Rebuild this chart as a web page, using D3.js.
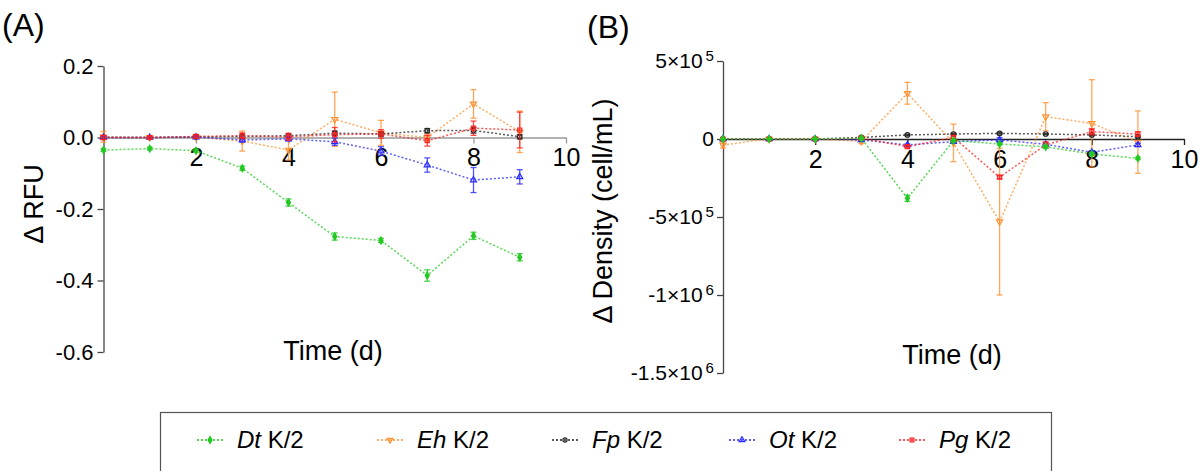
<!DOCTYPE html>
<html><head><meta charset="utf-8">
<script src="https://cdn.jsdelivr.net/npm/d3@7"></script>
<style>body{margin:0;background:#fff} svg{font-family:Arial,"Liberation Sans",sans-serif}</style>
</head><body>
<svg id="c" width="1202" height="471"></svg>
<script>
// ---------- data ----------
const days = [0,1,2,3,4,5,6,7,8,9];
const species = ["Dt","Eh","Fp","Ot","Pg"];

// Panel A: delta RFU
const dtRFU    = [-0.035,-0.031,-0.037,-0.086,-0.182,-0.277,-0.288,-0.386,-0.275,-0.335];
const dtRFUErr = [0.004,0.004,0.004,0.006,0.010,0.010,0.006,0.016,0.010,0.010];
const ehRFU    = [0.002,0.000,0.001,-0.010,-0.035,0.051,0.013,0.000,0.094,0.016];
const ehRFUErr = [0.015,0.003,0.004,0.028,0.028,0.076,0.035,0.010,0.040,0.058];
const fpRFU    = [0.000,0.000,0.002,0.003,0.005,0.012,0.010,0.019,0.020,0.002];
const fpRFUErr = [0.003,0.002,0.003,0.004,0.004,0.006,0.006,0.006,0.008,0.006];
const otRFU    = [0.000,0.000,0.001,-0.007,-0.004,-0.012,-0.038,-0.077,-0.119,-0.110];
const otRFUErr = [0.003,0.002,0.003,0.006,0.006,0.010,0.012,0.020,0.035,0.020];
const pgRFU    = [0.000,0.000,0.003,0.005,0.002,0.008,0.010,-0.009,0.026,0.021];
const pgRFUErr = [0.006,0.003,0.005,0.008,0.010,0.020,0.012,0.015,0.020,0.050];

// Panel B: delta density (cell/mL)
const dtDen    = [0,0,0,5e3,-3.8e5,-1e4,-3.2e4,-5e4,-9.6e4,-1.24e5];
const dtDenErr = [3e3,2e3,3e3,5e3,2e4,8e3,6e3,1e4,1e4,8e3];
const ehDen    = [-3.8e4,0,0,-1.5e4,2.93e5,-2.5e4,-5.3e5,1.43e5,1.0e5,-2e4];
const ehDenErr = [2e4,3e3,5e3,1.5e4,7e4,1.2e5,4.7e5,9e4,2.8e5,2e5];
const fpDen    = [0,0,0,1e4,2.6e4,3.2e4,3.6e4,3.2e4,2.6e4,1.5e4];
const fpDenErr = [2e3,2e3,2e3,3e3,4e3,4e3,4e3,4e3,4e3,4e3];
const otDen    = [0,0,0,-5e3,-3.8e4,-1.7e4,-6e3,-3.4e4,-8.5e4,-3.8e4];
const otDenErr = [2e3,2e3,2e3,4e3,6e3,8e3,1.5e4,1e4,1e4,1e4];
const pgDen    = [0,0,0,5e3,-4.9e4,1e4,-2.45e5,-3.8e4,4.7e4,3.2e4];
const pgDenErr = [2e3,2e3,2e3,1e4,8e3,1e4,1e4,2e4,2e4,1.5e4];

const xTicks = [2,4,6,8,10];
const yTicksA = [0.2,0.0,-0.2,-0.4,-0.6];
const yTickLabelsA = ["0.2","0.0","-0.2","-0.4","-0.6"];
const yTicksB = [5e5,0,-5e5,-1e6,-1.5e6];
const yTickLabelsB = ["5×10^5","0","-5×10^5","-1×10^6","-1.5×10^6"];

// ---------- styles ----------
const colors = {Dt:"#22c922",Eh:"#ff9030",Fp:"#222222",Ot:"#2a2aff",Pg:"#ff2020"};
const symbols = {Dt:d3.symbolDiamond,Eh:d3.symbolTriangle,Fp:d3.symbolCircle,Ot:d3.symbolTriangle,Pg:d3.symbolSquare};
const rot = {Dt:0,Eh:180,Fp:0,Ot:0,Pg:0};
const filled = {Dt:true,Eh:false,Fp:false,Ot:false,Pg:false};

const svg = d3.select("#c");

function panel(opts){
  const {x,y,series,yTicks,yLabels,xAxisColor,fsY,padY} = opts;
  const g = svg.append("g");
  const xa = g.append("g").attr("transform",`translate(0,${y(0)})`)
    .call(d3.axisBottom(x).tickValues(xTicks).tickSize(6).tickSizeOuter(0).tickPadding(5));
  xa.select(".domain").attr("stroke",xAxisColor).attr("stroke-width",1.3);
  xa.selectAll(".tick line").attr("stroke",xAxisColor).attr("stroke-width",1.3);
  xa.selectAll("text").attr("font-size",25).attr("fill","#000").attr("font-family","Arial, 'Liberation Sans', sans-serif");
  const ya = g.append("g").attr("transform",`translate(${x(0)},0)`)
    .call(d3.axisLeft(y).tickValues(yTicks).tickSize(6).tickSizeOuter(0).tickPadding(padY).tickFormat(()=>""));
  ya.select(".domain").attr("stroke","#444").attr("stroke-width",1.3);
  ya.selectAll(".tick line").attr("stroke","#444").attr("stroke-width",1.3);
  ya.selectAll(".tick text").each(function(d,i){
    const t = d3.select(this).attr("font-size",fsY).attr("fill","#000").attr("font-family","Arial, 'Liberation Sans', sans-serif");
    const parts = yLabels[i].split("^");
    t.append("tspan").text(parts[0]);
    if(parts[1]) t.append("tspan").attr("dx",3).attr("dy","-0.5em").attr("font-size",fsY*0.72).text(parts[1]);
  });
  series.forEach(s=>{
    const c = colors[s.sp];
    const sg = g.append("g");
    sg.append("path").datum(days)
      .attr("d",d3.line().x(d=>x(d)).y((d,i)=>y(s.v[i])))
      .attr("fill","none").attr("stroke",c).attr("stroke-width",1.5)
      .attr("stroke-dasharray","2,2").attr("stroke-opacity",0.75);
    const eb = sg.selectAll(".eb").data(days).join("g");
    eb.append("line").attr("x1",d=>x(d)).attr("x2",d=>x(d))
      .attr("y1",(d,i)=>y(s.v[i]-s.e[i])).attr("y2",(d,i)=>y(s.v[i]+s.e[i]))
      .attr("stroke",c).attr("stroke-width",1.3).attr("stroke-opacity",0.8);
    [-1,1].forEach(sgn=>{
      eb.append("line").attr("x1",d=>x(d)-3).attr("x2",d=>x(d)+3)
        .attr("y1",(d,i)=>y(s.v[i]+sgn*s.e[i])).attr("y2",(d,i)=>y(s.v[i]+sgn*s.e[i]))
        .attr("stroke",c).attr("stroke-width",1.3).attr("stroke-opacity",0.8);
    });
    sg.selectAll(".pt").data(days).join("path")
      .attr("d",d3.symbol().type(symbols[s.sp]).size(s.sp==="Dt"?14:16))
      .attr("transform",(d,i)=>`translate(${x(d)},${y(s.v[i])}) rotate(${rot[s.sp]})`)
      .attr("fill",filled[s.sp]?c:"none").attr("stroke",c).attr("stroke-width",1.2);
  });
  return g;
}

const xA = d3.scaleLinear([0,10],[103.5,566]);
const yA = d3.scaleLinear([-0.6,0.2],[352,66]);
const xB = d3.scaleLinear([0,10],[723,1184]);
const yB = d3.scaleLinear([-1.5e6,5e5],[373,61]);

panel({x:xA,y:yA,yTicks:yTicksA,yLabels:yTickLabelsA,xAxisColor:"#999",fsY:22,padY:4,
  series:[{sp:"Dt",v:dtRFU,e:dtRFUErr},{sp:"Eh",v:ehRFU,e:ehRFUErr},{sp:"Fp",v:fpRFU,e:fpRFUErr},
          {sp:"Ot",v:otRFU,e:otRFUErr},{sp:"Pg",v:pgRFU,e:pgRFUErr}]});
panel({x:xB,y:yB,yTicks:yTicksB,yLabels:yTickLabelsB,xAxisColor:"#222",fsY:21,padY:3,
  series:[{sp:"Eh",v:ehDen,e:ehDenErr},{sp:"Fp",v:fpDen,e:fpDenErr},{sp:"Ot",v:otDen,e:otDenErr},
          {sp:"Pg",v:pgDen,e:pgDenErr},{sp:"Dt",v:dtDen,e:dtDenErr}]});

// titles
svg.append("text").attr("x",2).attr("y",36).attr("font-size",32).text("(A)");
svg.append("text").attr("x",587).attr("y",38).attr("font-size",32).text("(B)");
svg.append("text").attr("transform","translate(43,204) rotate(-90)").attr("text-anchor","middle")
  .attr("font-size",27).text("Δ RFU");
svg.append("text").attr("transform","translate(612,211) rotate(-90)").attr("text-anchor","middle")
  .attr("font-size",27).text("Δ Density (cell/mL)");
svg.append("text").attr("x",333).attr("y",360).attr("text-anchor","middle").attr("font-size",27).text("Time (d)");
svg.append("text").attr("x",952).attr("y",364).attr("text-anchor","middle").attr("font-size",27).text("Time (d)");

// legend
svg.append("rect").attr("x",160.5).attr("y",412.5).attr("width",891).attr("height",80)
  .attr("fill","none").attr("stroke","#555").attr("stroke-width",1.2);
const legMx = [210,390,565,742,912];
species.forEach((sp,i)=>{
  const c = colors[sp], mx = legMx[i], my = 440;
  svg.append("line").attr("x1",mx-13).attr("x2",mx+13).attr("y1",my).attr("y2",my)
    .attr("stroke",c).attr("stroke-width",1.3).attr("stroke-dasharray","2,2");
  svg.append("path").attr("d",d3.symbol().type(symbols[sp]).size(14)())
    .attr("transform",`translate(${mx},${my}) rotate(${rot[sp]})`)
    .attr("fill",filled[sp]?c:"none").attr("stroke",c).attr("stroke-width",1.2);
  const t = svg.append("text").attr("x",mx+27).attr("y",448).attr("font-size",24);
  t.append("tspan").attr("font-style","italic").text(sp);
  t.append("tspan").text(" K/2");
});
</script>
</body></html>
